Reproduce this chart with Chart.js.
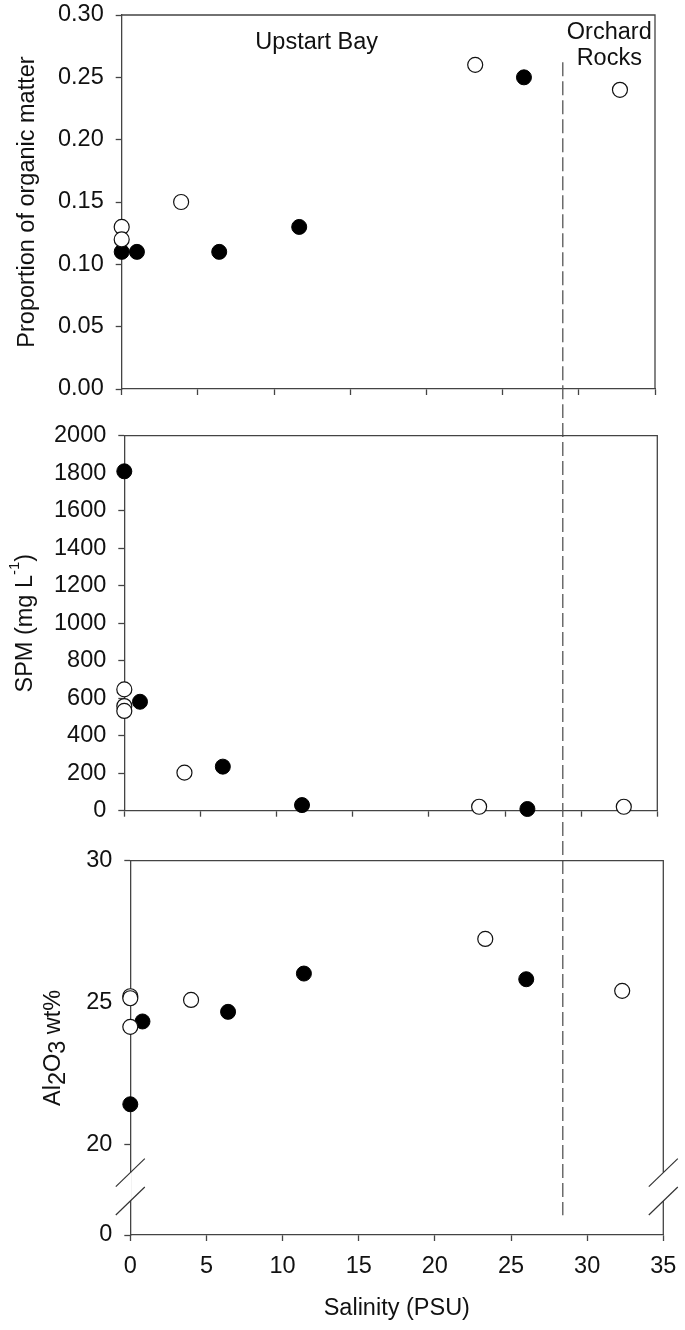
<!DOCTYPE html>
<html>
<head>
<meta charset="utf-8">
<title>Salinity profiles</title>
<script src="https://cdn.jsdelivr.net/npm/chart.js"></script>
<style>
  body { margin: 0; background: #fff; }
  #wrap { position: relative; width: 685px; height: 1330px; }
  #wrap > div { position: absolute; left: 0; width: 685px; }
</style>
</head>
<body>
<div id="wrap">
  <div style="top:0;height:412px"><canvas id="omChart"></canvas></div>
  <div style="top:412px;height:423px"><canvas id="spmChart"></canvas></div>
  <div style="top:835px;height:495px"><canvas id="alChart"></canvas></div>
</div>

<script>
  const FONT = "'Liberation Sans', Arial, sans-serif";
  const FS = 23.5;

  // salinity axis
  const salMin = 0, salMax = 35, salStep = 5;
  const boundarySal = 28.4; // Upstart Bay / Orchard Rocks split

  // organic matter (top panel)
  const omSalFilled = [0, 1.0, 6.4, 11.65, 26.4];
  const omFilled    = [0.11, 0.11, 0.11, 0.13, 0.25];
  const omSalOpen   = [0, 0, 3.9, 23.2, 32.7];
  const omOpen      = [0.13, 0.12, 0.15, 0.26, 0.24];
  const omTicks     = [0, 0.05, 0.10, 0.15, 0.20, 0.25, 0.30];

  // SPM (middle panel)
  const spmSalFilled = [0, 1.03, 6.47, 11.67, 26.47];
  const spmFilled    = [1810, 581, 235, 30, 9];
  const spmSalOpen   = [0, 0, 0, 3.95, 23.3, 32.8];
  const spmOpen      = [647, 558, 532, 203, 21, 21];
  const spmTicks     = [0, 200, 400, 600, 800, 1000, 1200, 1400, 1600, 1800, 2000];

  // Al2O3 (bottom panel, broken axis)
  const alSalFilled = [0, 0.8, 6.42, 11.4, 26.0];
  const alFilled    = [21.41, 24.33, 24.67, 26.02, 25.82];
  const alSalOpen   = [0, 0, 0, 3.99, 23.31, 32.3];
  const alOpen      = [25.22, 25.15, 24.14, 25.09, 27.24, 25.41];
  const alTicks     = [20, 25, 30];
  const alAxisBottom = 16.8;   // drawn as "0" below the break
  const alBreak = [19, 18];

  const pts = (xs, ys) => xs.map((x, i) => ({ x: x, y: ys[i] }));

  function datasets(salF, valF, salO, valO) {
    return [
      { data: pts(salO, valO), order: 1, pointRadius: 7.5, pointBackgroundColor: '#fff',
        pointBorderColor: '#111', pointBorderWidth: 1.2, showLine: false, clip: false },
      { data: pts(salF, valF), order: 2, pointRadius: 7.5, pointBackgroundColor: '#000',
        pointBorderColor: '#000', pointBorderWidth: 1, showLine: false, clip: false }
    ];
  }

  // keep chart area where it is: no extra room for overhanging labels
  function noOverhang(s) {
    s.paddingTop = 0; s.paddingBottom = 0; s.paddingLeft = 0; s.paddingRight = 0;
  }

  function xScale(box, showLabels) {
    return {
      type: 'linear', min: salMin, max: salMax,
      afterBuildTicks: s => {
        const t = [];
        for (let v = salMin; v <= salMax; v += salStep) t.push({ value: v });
        s.ticks = t;
      },
      ticks: { display: showLabels, font: { family: FONT, size: FS }, color: '#111', padding: 11 },
      grid: { drawOnChartArea: false, drawTicks: true, tickLength: 6, tickColor: '#444', tickWidth: 1.3 },
      border: { color: '#444', width: 1.3 },
      title: {
        display: showLabels, text: 'Salinity (PSU)', color: '#111',
        font: { family: FONT, size: FS }, padding: { top: 0, bottom: 7 }
      },
      afterFit: s => { s.height = box.xHeight; noOverhang(s); }
    };
  }

  function yScale(box, min, max, ticks, fmt, title) {
    return {
      min: min, max: max,
      afterBuildTicks: s => { s.ticks = ticks.map(v => ({ value: v })); },
      ticks: { font: { family: FONT, size: FS }, color: '#111', padding: 12, callback: fmt },
      grid: { drawOnChartArea: false, drawTicks: true, tickLength: 6, tickColor: '#444', tickWidth: 1.3 },
      border: { color: '#444', width: 1.3 },
      title: title || { display: false },
      afterFit: s => { s.width = box.yWidth; noOverhang(s); }
    };
  }

  // top and right edges of the box
  const framePlugin = {
    id: 'frame',
    afterDraw(chart) {
      const { ctx, chartArea: a } = chart;
      const gap = chart.options.frameGap;
      ctx.save();
      ctx.strokeStyle = '#444';
      ctx.lineWidth = 1.3;
      ctx.beginPath();
      ctx.moveTo(a.left, a.top);
      ctx.lineTo(a.right, a.top);
      if (gap) {
        ctx.lineTo(a.right, chart.scales.y.getPixelForValue(gap[0]));
        ctx.moveTo(a.right, chart.scales.y.getPixelForValue(gap[1]));
      }
      ctx.lineTo(a.right, a.bottom);
      ctx.stroke();
      ctx.restore();
    }
  };

  function boundaryPlugin(pageTop, startVal, endVal) {
    return {
      id: 'boundary',
      beforeDatasetsDraw(chart) {
        const ctx = chart.ctx;
        const xs = window.alChartRef ? window.alChartRef.scales.x : chart.scales.x;
        const x = xs.getPixelForValue(boundarySal);
        const y0 = startVal == null ? 0 : chart.scales.y.getPixelForValue(startVal);
        const y1 = endVal == null ? chart.height : chart.scales.y.getPixelForValue(endVal);
        const dashStartPage = 62;
        ctx.save();
        ctx.strokeStyle = '#555';
        ctx.lineWidth = 1.3;
        ctx.setLineDash([14, 5]);
        ctx.lineDashOffset = startVal == null ? (pageTop - dashStartPage) : 0;
        ctx.beginPath();
        ctx.moveTo(x, y0);
        ctx.lineTo(x, y1);
        ctx.stroke();
        ctx.restore();
      }
    };
  }

  function drawVerticalRich(ctx, runs, x, yCenter) {
    ctx.save();
    ctx.fillStyle = '#111';
    ctx.textBaseline = 'alphabetic';
    ctx.textAlign = 'left';
    let total = 0;
    runs.forEach(r => { ctx.font = r.size + 'px ' + FONT; total += ctx.measureText(r.text).width; });
    ctx.translate(x, yCenter + total / 2);
    ctx.rotate(-Math.PI / 2);
    let pos = 0;
    runs.forEach(r => {
      ctx.font = r.size + 'px ' + FONT;
      ctx.fillText(r.text, pos, r.dy || 0);
      pos += ctx.measureText(r.text).width;
    });
    ctx.restore();
  }

  function richTitlePlugin(runs, baseX, shift) {
    return {
      id: 'richTitle',
      afterDraw(chart) {
        const a = chart.chartArea;
        drawVerticalRich(chart.ctx, runs, baseX, (a.top + a.bottom) / 2 + shift);
      }
    };
  }

  const breakPlugin = {
    id: 'axisBreak',
    afterDraw(chart) {
      const { ctx, chartArea: a } = chart;
      const y1 = chart.scales.y.getPixelForValue(alBreak[0]);
      const y2 = chart.scales.y.getPixelForValue(alBreak[1]);
      ctx.save();
      ctx.fillStyle = '#fff';
      ctx.fillRect(a.left - 1.5, y1, 3, y2 - y1);
      ctx.strokeStyle = '#333';
      ctx.lineWidth = 1.2;
      [a.left, a.right].forEach(x => {
        [y1, y2].forEach(y => {
          ctx.beginPath();
          ctx.moveTo(x - 14.5, y + 14);
          ctx.lineTo(x + 14.5, y - 14);
          ctx.stroke();
        });
      });
      ctx.restore();
    }
  };

  const sitePlugin = {
    id: 'sites',
    afterDraw(chart) {
      const { ctx, scales } = chart;
      ctx.save();
      ctx.fillStyle = '#111';
      ctx.font = FS + 'px ' + FONT;
      ctx.textAlign = 'center';
      ctx.textBaseline = 'alphabetic';
      ctx.fillText('Upstart Bay', scales.x.getPixelForValue(12.8), scales.y.getPixelForValue(0.2727));
      ctx.fillText('Orchard', scales.x.getPixelForValue(32.0), scales.y.getPixelForValue(0.2807));
      ctx.fillText('Rocks', scales.x.getPixelForValue(32.0), scales.y.getPixelForValue(0.2599));
      ctx.restore();
    }
  };

  function baseOptions(box) {
    return {
      responsive: true,
      maintainAspectRatio: false,
      animation: false,
      events: [],
      layout: { padding: { left: 0, right: box.right, top: box.top, bottom: 0 } },
      plugins: { legend: { display: false }, tooltip: { enabled: false } }
    };
  }

  // bottom panel first, its x scale places the boundary line for all panels
  const alBox = { top: 25.7, right: 21.7, yWidth: 130.3, xHeight: 95 };
  const alOpts = baseOptions(alBox);
  alOpts.frameGap = alBreak;
  alOpts.scales = {
    x: xScale(alBox, true),
    y: yScale(alBox, alAxisBottom, 30, [alAxisBottom].concat(alTicks),
      v => (v === alAxisBottom ? '0' : String(v)))
  };
  window.alChartRef = new Chart(document.getElementById('alChart'), {
    type: 'scatter',
    data: { datasets: datasets(alSalFilled, alFilled, alSalOpen, alOpen) },
    options: alOpts,
    plugins: [framePlugin, boundaryPlugin(835, null, 17.5), breakPlugin,
      richTitlePlugin([
        { text: 'Al', size: FS }, { text: '2', size: FS, dy: 5 },
        { text: 'O', size: FS }, { text: '3', size: FS, dy: 5 },
        { text: ' wt%', size: FS }
      ], 60, 0)]
  });

  const spmBox = { top: 23.7, right: 27.7, yWidth: 124.3, xHeight: 24.3 };
  const spmOpts = baseOptions(spmBox);
  spmOpts.scales = {
    x: xScale(spmBox, false),
    y: yScale(spmBox, 0, 2000, spmTicks, v => String(v))
  };
  new Chart(document.getElementById('spmChart'), {
    type: 'scatter',
    data: { datasets: datasets(spmSalFilled, spmFilled, spmSalOpen, spmOpen) },
    options: spmOpts,
    plugins: [framePlugin, boundaryPlugin(412, null, null),
      richTitlePlugin([
        { text: 'SPM (mg L', size: FS }, { text: '-1', size: 15, dy: -13 },
        { text: ')', size: FS }
      ], 31.7, 0)]
  });

  const omBox = { top: 15, right: 30, yWidth: 121.7, xHeight: 23 };
  const omOpts = baseOptions(omBox);
  omOpts.scales = {
    x: xScale(omBox, false),
    y: yScale(omBox, 0, 0.3, omTicks, v => v.toFixed(2), {
      display: true, text: 'Proportion of organic matter', color: '#111',
      font: { family: FONT, size: FS }, padding: { top: 13.5, bottom: 0 }
    })
  };
  new Chart(document.getElementById('omChart'), {
    type: 'scatter',
    data: { datasets: datasets(omSalFilled, omFilled, omSalOpen, omOpen) },
    options: omOpts,
    plugins: [framePlugin, boundaryPlugin(0, 0.262, null), sitePlugin]
  });
</script>
</body>
</html>
